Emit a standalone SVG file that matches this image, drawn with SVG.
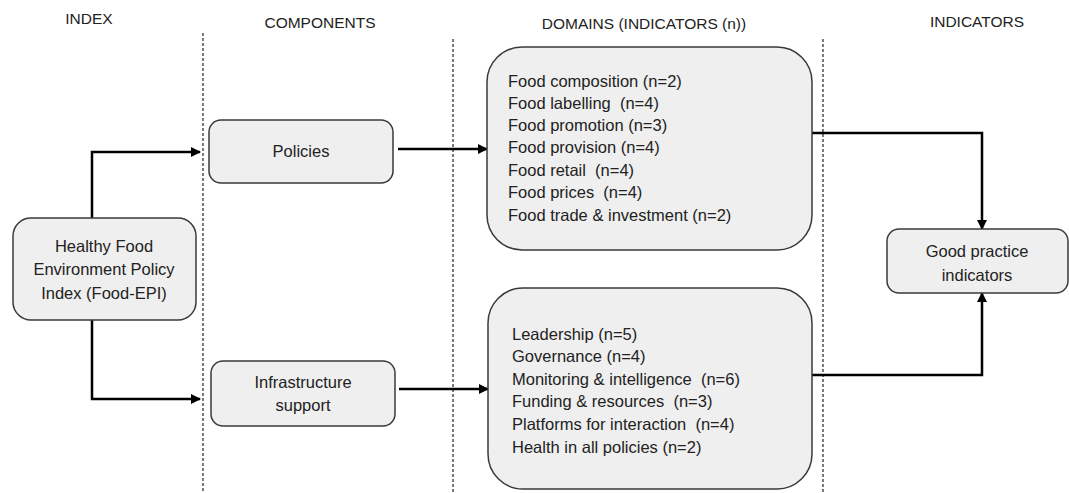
<svg xmlns="http://www.w3.org/2000/svg" width="1069" height="493" viewBox="0 0 1069 493">
  <style>
    .hdr { font-family: "Liberation Sans", Arial, sans-serif; font-size: 15.5px; fill: #222; text-anchor: middle; }
    .t { font-family: "Liberation Sans", Arial, sans-serif; font-size: 16.5px; fill: #222; white-space: pre; }
    .c { text-anchor: middle; }
    .box { fill: #efefef; stroke: #3a3a3a; stroke-width: 1.5; }
    .sep { stroke: #333; stroke-width: 1.3; stroke-dasharray: 3 2; fill: none; }
    .conn { stroke: #000; stroke-width: 2.5; fill: none; marker-end: url(#ah); }
  </style>
  <defs>
    <marker id="ah" viewBox="0 0 10 10" refX="9" refY="5" markerWidth="4.4" markerHeight="4" markerUnits="strokeWidth" orient="auto">
      <path d="M0,0 L10,5 L0,10 z" fill="#000"/>
    </marker>
  </defs>
  <rect width="1069" height="493" fill="#fff"/>

  <g id="headers">
    <text class="hdr" x="89" y="24">INDEX</text>
    <text class="hdr" x="320" y="28">COMPONENTS</text>
    <text class="hdr" x="644" y="29">DOMAINS (INDICATORS (n))</text>
    <text class="hdr" x="977" y="27">INDICATORS</text>
  </g>

  <g id="separators">
    <line class="sep" x1="203" y1="33" x2="203" y2="493"/>
    <line class="sep" x1="453" y1="39" x2="453" y2="493"/>
    <line class="sep" x1="823" y1="39" x2="823" y2="493"/>
  </g>

  <g id="connectors">
    <path class="conn" d="M92,218 V152 H200"/>
    <path class="conn" d="M92,320 V399 H200"/>
    <path class="conn" d="M398,149 H487"/>
    <path class="conn" d="M399,389 H488"/>
    <path class="conn" d="M812,133 H982 V229"/>
    <path class="conn" d="M812,375 H982 V293"/>
  </g>

  <g id="node-index">
    <rect class="box" x="13" y="218" width="183" height="102" rx="18"/>
    <text class="t c" x="104" y="252">Healthy Food</text>
    <text class="t c" x="104" y="275">Environment Policy</text>
    <text class="t c" x="104" y="299">Index (Food-EPI)</text>
  </g>

  <g id="node-policies">
    <rect class="box" x="209" y="120" width="184" height="63" rx="12"/>
    <text class="t c" x="301" y="157">Policies</text>
  </g>

  <g id="node-infrastructure">
    <rect class="box" x="211" y="361" width="184" height="65" rx="12"/>
    <text class="t c" x="303" y="388">Infrastructure</text>
    <text class="t c" x="303" y="411">support</text>
  </g>

  <g id="node-domains-policies">
    <rect class="box" x="487" y="47" width="325" height="203" rx="35"/>
    <text class="t" x="508" y="87">Food composition (n=2)</text>
    <text class="t" x="508" y="109">Food labelling  (n=4)</text>
    <text class="t" x="508" y="131">Food promotion (n=3)</text>
    <text class="t" x="508" y="153">Food provision (n=4)</text>
    <text class="t" x="508" y="176">Food retail  (n=4)</text>
    <text class="t" x="508" y="198">Food prices  (n=4)</text>
    <text class="t" x="508" y="221">Food trade &amp; investment (n=2)</text>
  </g>

  <g id="node-domains-infrastructure">
    <rect class="box" x="488" y="288" width="324" height="201" rx="35"/>
    <text class="t" x="512" y="340">Leadership (n=5)</text>
    <text class="t" x="512" y="362">Governance (n=4)</text>
    <text class="t" x="512" y="385">Monitoring &amp; intelligence  (n=6)</text>
    <text class="t" x="512" y="407">Funding &amp; resources  (n=3)</text>
    <text class="t" x="512" y="430">Platforms for interaction  (n=4)</text>
    <text class="t" x="512" y="453">Health in all policies (n=2)</text>
  </g>

  <g id="node-good-practice">
    <rect class="box" x="887" y="229" width="181" height="64" rx="12"/>
    <text class="t c" x="977" y="257">Good practice</text>
    <text class="t c" x="977" y="281">indicators</text>
  </g>
</svg>
